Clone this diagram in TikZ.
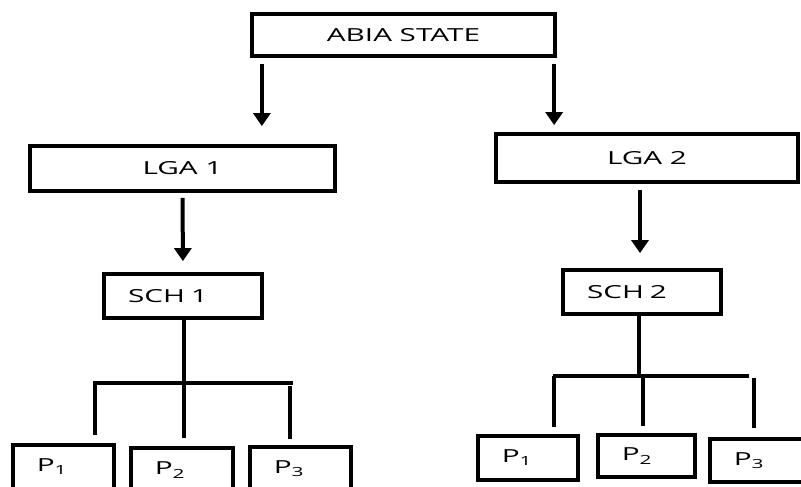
\documentclass[tikz,border=0pt]{standalone}
\usepackage{fontspec}
\setmainfont{Open Sans}[FakeStretch=1.65]
\usetikzlibrary{arrows.meta, positioning}

\begin{document}
\begin{tikzpicture}[x=1pt, y=-1pt,
    box/.style={rectangle, draw, line width=3.8pt, inner sep=0pt, font=\fontsize{18}{21}\selectfont},
    lbox/.style={box, align=left, inner xsep=24pt, text width=#1},
    arr/.style={line width=4pt, -{Triangle[width=17pt,length=13pt]}},
    stem/.style={line width=4pt},
    bar/.style={line width=3.2pt}]
    \clip (0,0) rectangle (801,487);

    % Nodes
    \node (abia) [box, minimum width=303.5pt, minimum height=42.5pt] at (403.5,35) {ABIA STATE};
    \node (lga1) [box, minimum width=305.5pt, minimum height=45.5pt] at (182.5,168.5) {LGA 1};
    \node (lga2) [box, minimum width=302.5pt, minimum height=48.5pt] at (647,158) {LGA 2};
    \node (sch1) [lbox=110pt, minimum height=44.5pt] at (183,296) {SCH 1};
    \node (sch2) [lbox=110pt, minimum height=44.5pt] at (642,292) {SCH 2};
    \node (pL1) [lbox=53.5pt, minimum height=44.5pt] at (63.5,467) {P\textsubscript{1}};
    \node (pL2) [lbox=54.5pt, minimum height=44.5pt] at (182,470) {P\textsubscript{2}};
    \node (pL3) [lbox=53.5pt, minimum height=44.5pt] at (300.5,469) {P\textsubscript{3}};
    \node (pR1) [lbox=52.5pt, minimum height=44.5pt] at (528,458) {P\textsubscript{1}};
    \node (pR2) [lbox=49.5pt, minimum height=42.5pt] at (646.5,456) {P\textsubscript{2}};
    \node (pR3) [lbox=52.5pt, minimum height=43.5pt] at (760,460.5) {P\textsubscript{3}};

    % Edges
    \coordinate (aL) at ([xshift=12pt]abia.south west);
    \coordinate (aR) at ([xshift=-3pt]abia.south east);
    \draw[arr, shorten <=5.75pt, shorten >=17.75pt] (aL) -- (aL |- lga1.north);
    \draw[arr, shorten <=5.75pt, shorten >=6.75pt] (aR) -- (aR |- lga2.north);
    \draw[arr, shorten <=4.75pt, shorten >=10.75pt] (lga1.south) -- (sch1.north);
    \coordinate (s2) at ([xshift=-2pt]sch2.north);
    \draw[arr, shorten <=5.75pt, shorten >=14.75pt] (s2 |- lga2.south) -- (s2);

    % Left tree
    \coordinate (barL1) at (93,383);
    \coordinate (barL2) at (293,383);
    \coordinate (dL1) at (95,383);
    \coordinate (dL2) at (184,383);
    \coordinate (dL3) at (290,386);
    \draw[stem] ([xshift=1pt]sch1.south) -- ([xshift=1pt]sch1.south |- barL1);
    \draw[bar] (barL1) -- (barL2);
    \draw[stem, shorten >=7.75pt] (dL1) -- (dL1 |- pL1.north);
    \draw[stem, shorten >=7.75pt] (dL2) -- (dL2 |- pL2.north);
    \draw[stem, shorten >=5.75pt] (dL3) -- (dL3 |- pL3.north);

    % Right tree
    \coordinate (barR1) at (553,376);
    \coordinate (barR2) at (749,376);
    \coordinate (dR1) at (554,376);
    \coordinate (dR2) at (643,376);
    \coordinate (dR3) at (754,378);
    \draw[stem] ([xshift=-3pt]sch2.south) -- ([xshift=-3pt]sch2.south |- barR1);
    \draw[bar] (barR1) -- (barR2);
    \draw[stem, shorten >=6.75pt] (dR1) -- (dR1 |- pR1.north);
    \draw[stem, shorten >=6.75pt] (dR2) -- (dR2 |- pR2.north);
    \draw[stem, shorten >=8.75pt] (dR3) -- (dR3 |- pR3.north);
\end{tikzpicture}
\end{document}
